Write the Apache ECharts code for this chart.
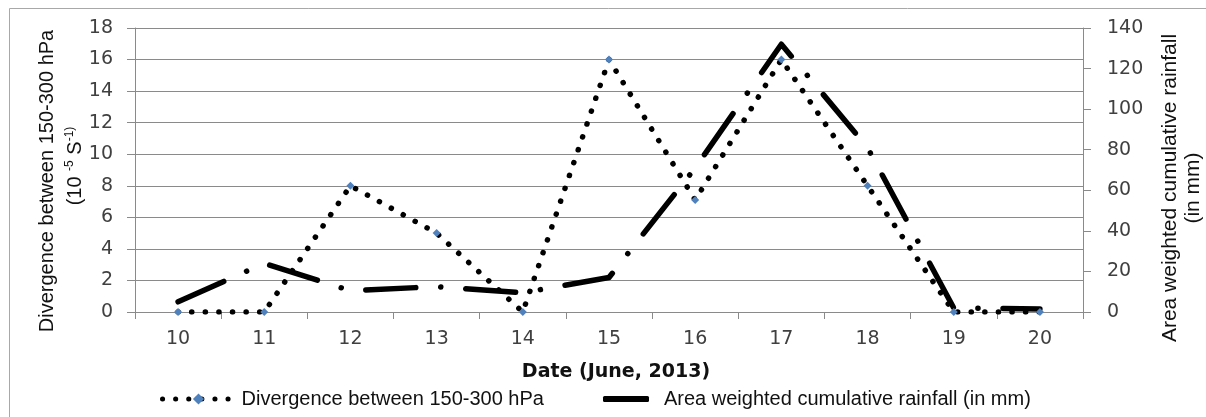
<!DOCTYPE html>
<html>
<head>
<meta charset="utf-8">
<script src="https://cdn.jsdelivr.net/npm/echarts@6/dist/echarts.min.js"></script>
<style>
html,body{margin:0;padding:0;background:#fff;}
#chart{width:1206px;height:417px;}
</style>
</head>
<body>
<div id="chart"></div>
<script>
const dates = ['10','11','12','13','14','15','16','17','18','19','20'];
const divergence = [0, 0, 8, 5, 0, 16, 7.1, 16, 8, 0, 0];
const rainfall = [5, 24, 10.5, 12.5, 9.5, 17, 71, 132, 81, 2, 1.5];
const leftTicks = {min: 0, max: 18, interval: 2};
const rightTicks = {min: 0, max: 140, interval: 20};

const axisGray = '#8a8a8a';
const labelColor = '#404040';
const tickFont = 'DejaVu Sans';

const chart = echarts.init(document.getElementById('chart'), null, {renderer: 'canvas'});
chart.setOption({
  animation: false,
  backgroundColor: '#ffffff',
  grid: {left: 135, right: 123, top: 28, bottom: 105, containLabel: false},
  xAxis: {
    type: 'category',
    data: dates,
    boundaryGap: true,
    name: 'Date (June, 2013)',
    nameLocation: 'middle',
    nameGap: 51,
    nameTextStyle: {fontFamily: 'DejaVu Sans', fontWeight: 'bold', fontSize: 19, color: '#111', padding: [0, 0, 0, 14]},
    axisLine: {lineStyle: {color: axisGray, width: 1}},
    axisTick: {show: true, length: 7, lineStyle: {color: axisGray}},
    axisLabel: {fontFamily: tickFont, fontSize: 19, color: labelColor, margin: 18}
  },
  yAxis: [
    {
      type: 'value',
      position: 'left',
      min: leftTicks.min, max: leftTicks.max, interval: leftTicks.interval,
      axisLine: {show: true, lineStyle: {color: axisGray}},
      axisTick: {show: true, length: 8, lineStyle: {color: axisGray}},
      splitLine: {show: true, lineStyle: {color: axisGray, width: 1}},
      axisLabel: {fontFamily: tickFont, fontSize: 19, color: labelColor, margin: 22}
    },
    {
      type: 'value',
      position: 'right',
      min: rightTicks.min, max: rightTicks.max, interval: rightTicks.interval,
      axisLine: {show: true, lineStyle: {color: axisGray}},
      axisTick: {show: true, length: 8, lineStyle: {color: axisGray}},
      splitLine: {show: false},
      axisLabel: {fontFamily: tickFont, fontSize: 19, color: labelColor, margin: 24}
    }
  ],
  legend: [
    {
      data: ['Divergence between 150-300 hPa'],
      left: 155, top: 384,
      itemWidth: 72, itemHeight: 14,
      lineStyle: {width: 5, cap: 'round', type: [0.1, 13]},
      itemStyle: {color: '#4f81bd'},
      textStyle: {fontFamily: 'Liberation Sans', fontSize: 20, color: '#111', padding: [0,0,0,2]}
    },
    {
      data: [{name: 'Area weighted cumulative rainfall (in mm)', icon: 'roundRect'}],
      left: 598, top: 384,
      itemWidth: 46, itemHeight: 6,
      itemStyle: {color: '#000'},
      textStyle: {fontFamily: 'Liberation Sans', fontSize: 20, color: '#111', padding: [0,0,0,10]}
    }
  ],
  graphic: [
    {type: 'rect', left: 7, top: 6, shape: {width: 1220, height: 430}, style: {fill: 'none', stroke: '#a8a8a8', lineWidth: 1}, silent: true},
    {type: 'text', x: 47, y: 181, rotation: Math.PI / 2,
      style: {text: 'Divergence between 150-300 hPa', fontFamily: 'Liberation Sans', fontSize: 20, fill: '#111', align: 'center', verticalAlign: 'middle'}},
    {type: 'text', x: 75, y: 166, rotation: Math.PI / 2,
      style: {text: '(10 {s|-5} S{s|-1)}', fontFamily: 'Liberation Sans', fontSize: 20, fill: '#111', align: 'center', verticalAlign: 'middle',
        rich: {s: {fontFamily: 'Liberation Sans', fontSize: 12, fill: '#111', verticalAlign: 'top', lineHeight: 22}}}},
    {type: 'text', x: 1170, y: 188, rotation: Math.PI / 2,
      style: {text: 'Area weighted cumulative rainfall', fontFamily: 'Liberation Sans', fontSize: 21, fill: '#111', align: 'center', verticalAlign: 'middle'}},
    {type: 'text', x: 1193, y: 188, rotation: Math.PI / 2,
      style: {text: '(in mm)', fontFamily: 'Liberation Sans', fontSize: 21, fill: '#111', align: 'center', verticalAlign: 'middle'}}
  ],
  series: [
    {
      name: 'Divergence between 150-300 hPa',
      type: 'line',
      yAxisIndex: 0,
      data: divergence,
      symbol: 'diamond',
      symbolSize: 8,
      itemStyle: {color: '#4f81bd'},
      lineStyle: {color: '#000', width: 5.5, type: [0.1, 13.5], cap: 'round'},
      z: 3
    },
    {
      name: 'Area weighted cumulative rainfall (in mm)',
      type: 'line',
      yAxisIndex: 1,
      data: rainfall,
      symbol: 'none',
      itemStyle: {color: '#000'},
      lineStyle: {color: '#000', width: 5.5, type: [50, 25, 0.1, 25], cap: 'round', join: 'round'},
      z: 2
    }
  ]
});
</script>
</body>
</html>
